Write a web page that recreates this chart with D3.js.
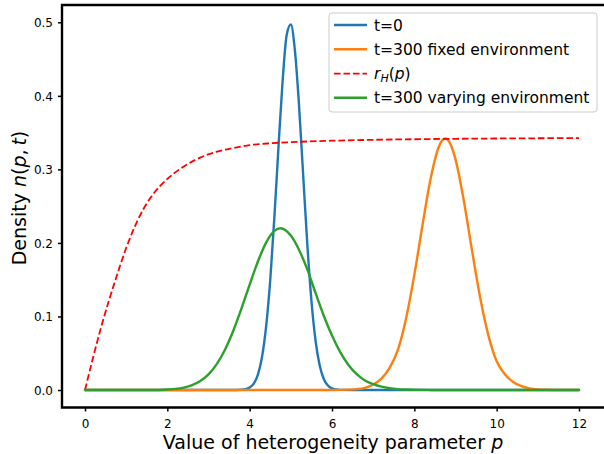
<!DOCTYPE html>
<html><head><meta charset="utf-8">
<script src="https://cdn.jsdelivr.net/npm/d3@7"></script>
<style>body{margin:0;background:#fff}svg{display:block;font-family:"DejaVu Sans",sans-serif}</style>
</head><body><svg id="c" width="604" height="454"></svg>
<script>
const xTicks = [0, 2, 4, 6, 8, 10, 12];
const yTicks = [0, 0.1, 0.2, 0.3, 0.4, 0.5];

const blueP = [0, 3.5, 3.8, 3.9, 4.0, 4.1, 4.2, 4.3, 4.4, 4.5, 4.6, 4.7, 4.8, 4.9, 5.0, 5.1, 5.2, 5.3, 5.4, 5.5, 5.6, 5.7, 5.8, 5.9, 6.0, 6.1, 6.2, 6.5, 12];
const blueV = [0, 0, 0.0004, 0.0011, 0.0034, 0.0088, 0.0210, 0.0448, 0.0864, 0.1498, 0.2345, 0.3305, 0.4199, 0.4830, 0.4970, 0.4611, 0.3864, 0.2917, 0.1985, 0.1217, 0.0673, 0.0335, 0.0150, 0.0061, 0.0022, 0.0007, 0.0002, 0, 0];

const orangeP = [0, 6.0, 6.4, 6.6, 6.8, 7.0, 7.2, 7.4, 7.6, 7.8, 8.0, 8.2, 8.4, 8.6, 8.75, 8.9, 9.0, 9.2, 9.4, 9.6, 9.8, 10.0, 10.2, 10.4, 10.6, 10.8, 11.0, 11.2, 11.4, 11.8, 12];
const orangeV = [0, 0, 0.0005, 0.0012, 0.0030, 0.0075, 0.0155, 0.0300, 0.0545, 0.0976, 0.1566, 0.2247, 0.2885, 0.3315, 0.3420, 0.3315, 0.3136, 0.2581, 0.1902, 0.1254, 0.0740, 0.0391, 0.0215, 0.0110, 0.0052, 0.0022, 0.0008, 0.0003, 0.0001, 0, 0];

const redP = [0, 0.2, 0.4, 0.6, 0.8, 1.0, 1.2, 1.4, 1.6, 1.8, 2.0, 2.4, 2.8, 3.2, 3.6, 4.0, 4.5, 5, 6, 7, 8, 9, 10, 11, 12];
const redV = [0, 0.045, 0.087, 0.125, 0.160, 0.193, 0.221, 0.244, 0.262, 0.276, 0.287, 0.304, 0.316, 0.324, 0.329, 0.333, 0.3355, 0.337, 0.339, 0.3402, 0.341, 0.3416, 0.342, 0.3423, 0.3426];

const greenP = [0, 1.6, 2.0, 2.2, 2.4, 2.6, 2.8, 3.0, 3.2, 3.4, 3.6, 3.8, 4.0, 4.2, 4.4, 4.6, 4.75, 5.0, 5.2, 5.4, 5.6, 5.8, 6.0, 6.2, 6.4, 6.6, 6.8, 7.0, 7.2, 7.4, 7.6, 7.8, 8.0, 8.4, 9.0, 12];
const greenV = [0, 0, 0.0007, 0.0015, 0.0033, 0.0065, 0.0121, 0.0213, 0.0352, 0.0548, 0.0803, 0.1106, 0.1433, 0.1747, 0.2004, 0.2163, 0.2200, 0.2100, 0.1905, 0.1640, 0.1320, 0.1010, 0.0740, 0.0515, 0.0340, 0.0215, 0.0130, 0.0080, 0.0045, 0.0024, 0.0012, 0.0006, 0.0003, 0.0001, 0, 0];

const seriesNames = ["t=0", "t=300 fixed environment", "rH", "t=300 varying environment"];

(function () {
const svg = d3.select("#c");
const x = d3.scaleLinear().domain([0, 12]).range([85, 579]);
const y = d3.scaleLinear().domain([0, 0.5]).range([390, 22.3]);
const pLeft = 62, pTop = 5, pBottom = 407.5, pRight = 607;

// spines
svg.append("path")
  .attr("d", `M${pRight},${pTop}H${pLeft}V${pBottom}H${pRight}`)
  .attr("fill", "none").attr("stroke", "#000").attr("stroke-width", 2.4);

// axes
const gx = svg.append("g").attr("transform", `translate(0,${pBottom})`)
  .call(d3.axisBottom(x).tickValues(xTicks).tickSize(4).tickFormat(d3.format("d")));
gx.select(".domain").remove();
gx.selectAll("line").attr("stroke-width", 1.5);
gx.selectAll("text").attr("y", 20).attr("dy", null)
  .style("font-size", "12px").style("font-family", "DejaVu Sans").attr("fill", "#000");

const gy = svg.append("g").attr("transform", `translate(${pLeft},0)`)
  .call(d3.axisLeft(y).tickValues(yTicks).tickSize(4).tickFormat(d3.format(".1f")));
gy.select(".domain").remove();
gy.selectAll("line").attr("stroke-width", 1.5);
gy.selectAll("text").attr("x", -9).attr("dy", "0.36em")
  .style("font-size", "12px").style("font-family", "DejaVu Sans").attr("fill", "#000");

// lines
const line = d3.line().x(d => x(d[0])).y(d => y(d[1])).curve(d3.curveMonotoneX);
const zip = (a, b) => a.map((v, i) => [v, b[i]]);
function draw(P, V, color, w, dash) {
  const p = svg.append("path").datum(zip(P, V)).attr("d", line)
    .attr("fill", "none").attr("stroke", color).attr("stroke-width", w)
    .attr("stroke-linejoin", "round").attr("stroke-linecap", dash ? "butt" : "round");
  if (dash) p.attr("stroke-dasharray", dash);
}
draw(blueP, blueV, "#1f77b4", 2.4);
draw(orangeP, orangeV, "#ff7f0e", 2.4);
draw(redP, redV, "#ff0000", 1.8, "6.6,2.9");
draw(greenP, greenV, "#2ca02c", 2.4);

// axis labels
svg.append("text").attr("x", 333).attr("y", 449).attr("text-anchor", "middle")
  .style("font-size", "19px").attr("fill", "#000")
  .html('Value of heterogeneity parameter <tspan font-style="italic">p</tspan>');
svg.append("text").attr("transform", "translate(25.5,198) rotate(-90)").attr("text-anchor", "middle")
  .style("font-size", "19px").attr("fill", "#000")
  .html('Density <tspan font-style="italic">n</tspan>(<tspan font-style="italic">p</tspan>,\u2009<tspan font-style="italic">t</tspan>)');

// legend
const lg = svg.append("g");
lg.append("rect").attr("x", 329).attr("y", 13).attr("width", 268).attr("height", 99).attr("rx", 3)
  .attr("fill", "#fff").attr("fill-opacity", 0.8).attr("stroke", "#cccccc").attr("stroke-width", 1);
const rows = [
  {c: "#1f77b4", w: 2.4},
  {c: "#ff7f0e", w: 2.4},
  {c: "#ff0000", w: 1.8, dash: "6.6,2.9"},
  {c: "#2ca02c", w: 2.4}
];
const rowY = [25, 49.3, 73.6, 97.7];
rows.forEach((r, i) => {
  const l = lg.append("line").attr("x1", 334).attr("x2", 367).attr("y1", rowY[i]).attr("y2", rowY[i])
    .attr("stroke", r.c).attr("stroke-width", r.w);
  if (r.dash) l.attr("stroke-dasharray", r.dash);
  const t = lg.append("text").attr("x", 374).attr("y", rowY[i] + 5.5).style("font-size", "15.5px").attr("fill", "#000");
  if (seriesNames[i] === "rH") {
    t.html('<tspan font-style="italic">r</tspan><tspan font-style="italic" font-size="11px" dy="3">H</tspan><tspan dy="-3">(</tspan><tspan font-style="italic">p</tspan>)');
  } else {
    t.text(seriesNames[i]);
  }
});
})();
</script>
</body></html>
